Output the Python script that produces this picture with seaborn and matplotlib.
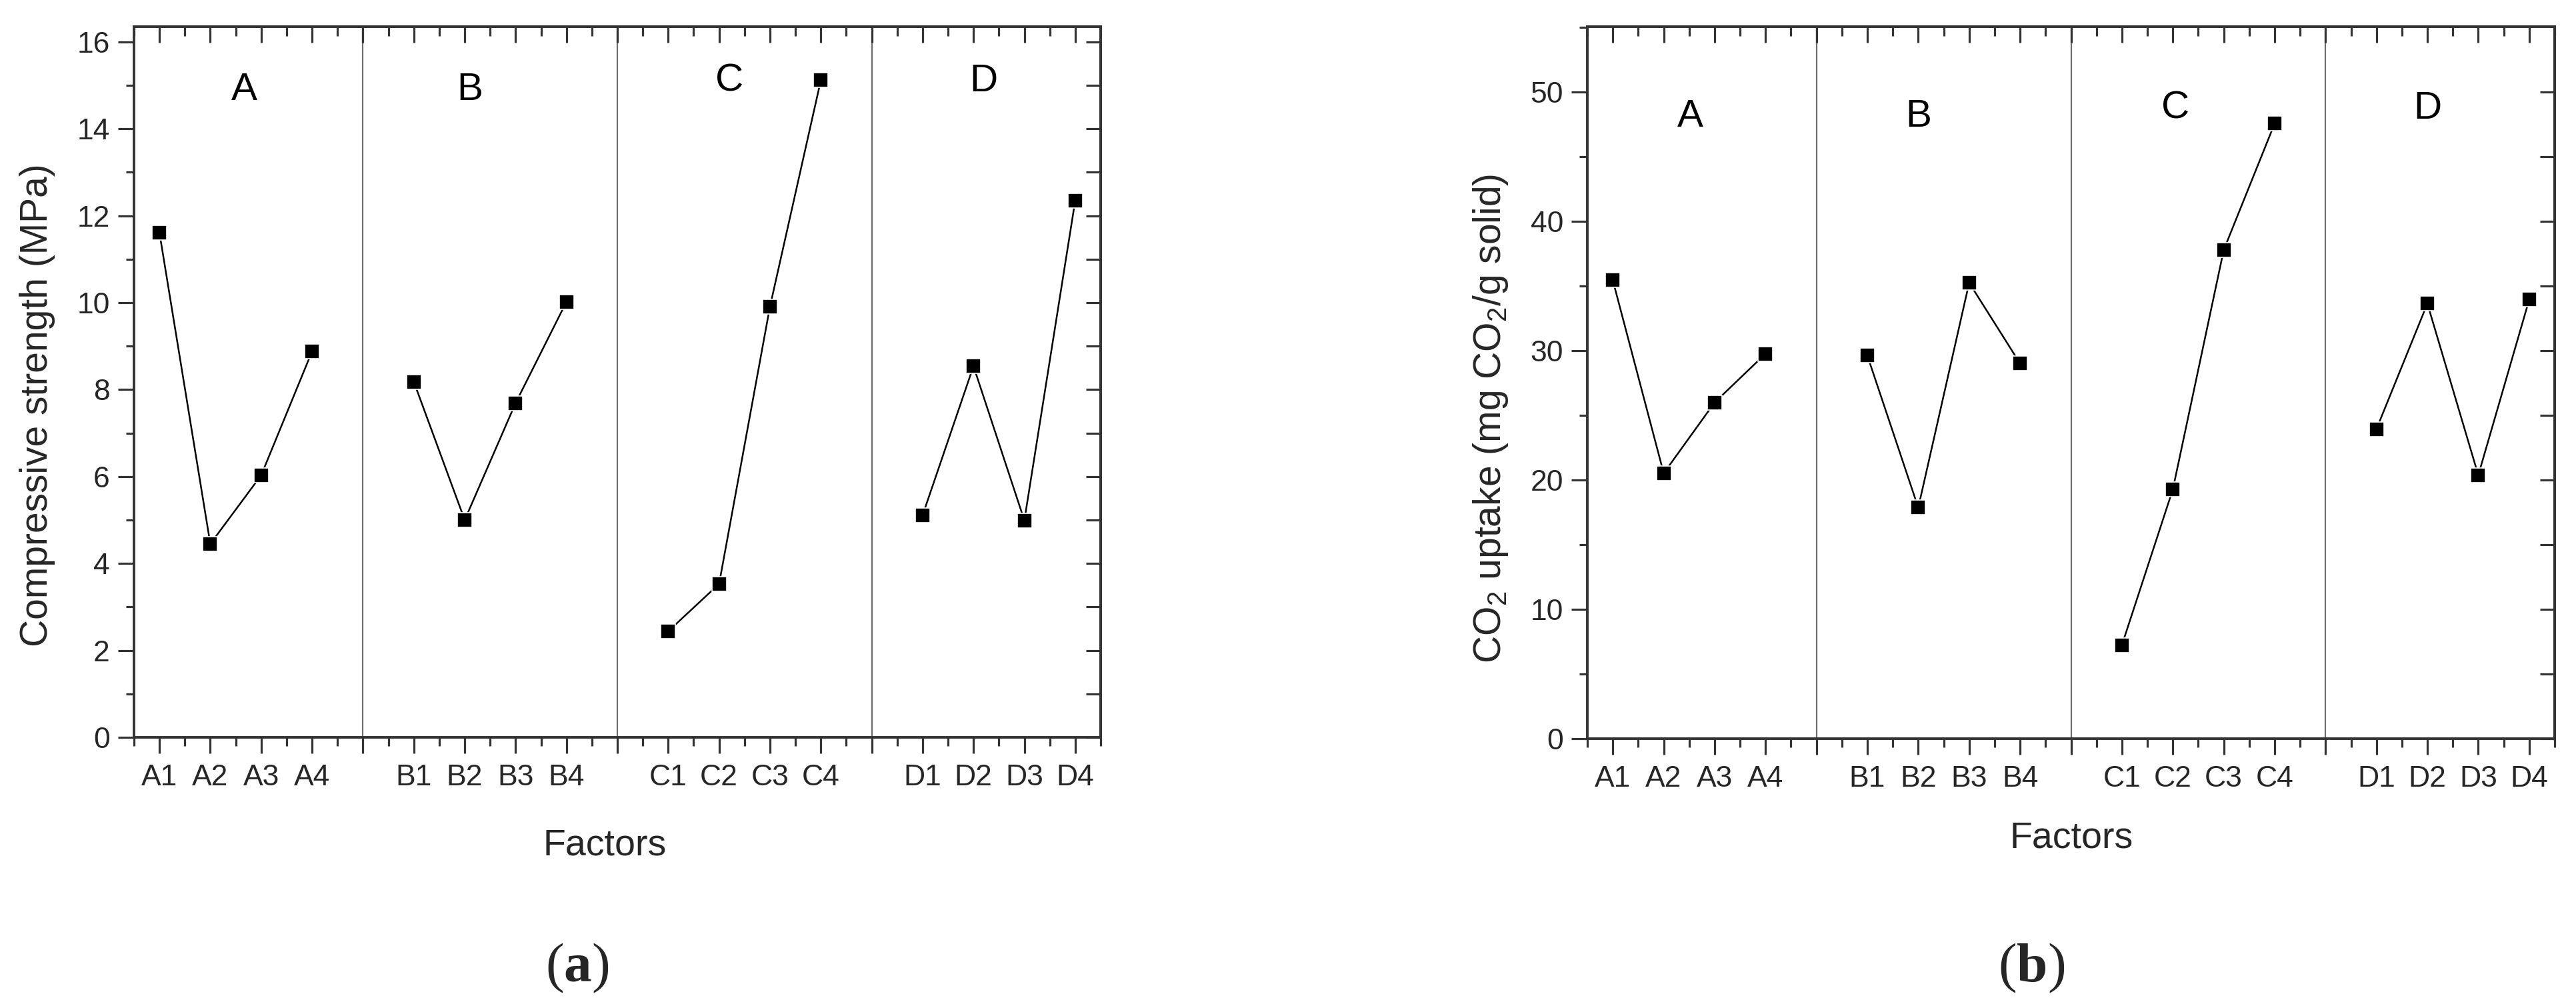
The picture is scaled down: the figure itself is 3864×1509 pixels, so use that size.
import numpy as np
import pandas as pd
import matplotlib
matplotlib.use("Agg")
import matplotlib.pyplot as plt
import seaborn as sns
from matplotlib.ticker import FixedLocator

# ---------------- data ----------------
factors = ["A", "B", "C", "D"]
levels = ["1", "2", "3", "4"]

strength_A = [11.61, 4.45, 6.03, 8.88]
strength_B = [8.18, 5.00, 7.69, 10.02]
strength_C = [2.44, 3.53, 9.91, 15.12]
strength_D = [5.11, 8.54, 4.99, 12.35]

uptake_A = [35.46, 20.53, 26.0, 29.77]
uptake_B = [29.63, 17.87, 35.26, 29.02]
uptake_C = [7.24, 19.28, 37.80, 47.58]
uptake_D = [23.95, 33.65, 20.38, 33.96]

ylabel_a = "Compressive strength (MPa)"
ylabel_b = r"CO$_\mathregular{2}$ uptake (mg CO$_\mathregular{2}$/g solid)"
xlabel = "Factors"
panel_tags = ["a", "b"]

# ---------------- style ----------------
sns.set_style("ticks")
plt.rcParams["font.family"] = ["Liberation Sans", "DejaVu Sans"]
plt.rcParams["mathtext.fontset"] = "custom"
plt.rcParams["mathtext.rm"] = "Liberation Sans"
plt.rcParams["mathtext.bf"] = "Liberation Serif:bold"

SPINE = "#333333"
GAP = 5  # slots per factor group (4 levels + separator)


def build(vals):
    rows = []
    for fi, (f, series) in enumerate(zip(factors, vals)):
        for li, v in enumerate(series):
            rows.append({"factor": f, "label": f + levels[li], "pos": fi * GAP + li, "value": v})
    return pd.DataFrame(rows)


df_a = build([strength_A, strength_B, strength_C, strength_D])
df_b = build([uptake_A, uptake_B, uptake_C, uptake_D])

fig = plt.figure(figsize=(38.64, 15.09), dpi=100)
ax_a = fig.add_axes([0.05202, 0.26706, 0.37526, 0.70643])
ax_b = fig.add_axes([0.61620, 0.26574, 0.37552, 0.70775])


def style(ax, df, ylim, ymaj, ymin, yright, ylabel, ylab_xy, xlab_xy, letters_xy):
    seps = [fi * GAP + 4 for fi in range(len(factors) - 1)]
    for s in seps:
        ax.axvline(s, color="#6e6e6e", lw=1.6, zorder=0)
    sns.lineplot(data=df, x="pos", y="value", units="factor", estimator=None,
                 color="black", linewidth=1.8, marker="s", markersize=16.5,
                 markeredgecolor="white", markeredgewidth=1.2, ax=ax,
                 legend=False, zorder=3)
    ax.set_xlim(-0.5, (len(factors) - 1) * GAP + 3.5)
    ax.set_ylim(*ylim)

    majors = list(df["pos"]) + seps
    labels = list(df["label"]) + [""] * len(seps)
    order = np.argsort(majors)
    majors = [majors[i] for i in order]
    labels = [labels[i] for i in order]
    minors = list(np.arange(-0.5, ax.get_xlim()[1] + 0.01, 1.0))
    ax.set_xticks(majors, labels)
    ax.xaxis.set_minor_locator(FixedLocator(minors))
    ax.set_yticks(ymaj)
    ax.yaxis.set_minor_locator(FixedLocator(ymin))

    ax.tick_params(axis="both", which="major", direction="out", length=17,
                   width=2.3, color=SPINE, labelsize=32, pad=9)
    ax.tick_params(axis="both", which="minor", direction="out", length=9,
                   width=2.3, color=SPINE)
    ax.tick_params(axis="x", which="major", pad=12)
    for sp in ax.spines.values():
        sp.set_visible(True)
        sp.set_linewidth(2.8)
        sp.set_color(SPINE)

    top = ax.secondary_xaxis("top")
    top.set_xticks(majors)
    top.set_xticklabels([])
    top.xaxis.set_minor_locator(FixedLocator(minors))
    top.tick_params(which="major", direction="in", length=17, width=2.3, color=SPINE)
    top.tick_params(which="minor", direction="in", length=10, width=2.3, color=SPINE)
    for sp in top.spines.values():
        sp.set_linewidth(2.8)
        sp.set_color(SPINE)

    right = ax.secondary_yaxis("right")
    right.set_yticks(yright)
    right.set_yticklabels([])
    right.tick_params(which="major", direction="in", length=16, width=2.3, color=SPINE)
    for sp in right.spines.values():
        sp.set_linewidth(2.8)
        sp.set_color(SPINE)

    ax.set_ylabel(ylabel, fontsize=41, va="center")
    ax.yaxis.set_label_coords(*ylab_xy)
    ax.set_xlabel(xlabel, fontsize=40, va="top")
    ax.xaxis.set_label_coords(*xlab_xy)

    for f, (x, y) in zip(factors, letters_xy):
        ax.text(x, y, f, ha="center", va="center", fontsize=42, color="black")


style(ax_a, df_a, (0, 16.35), np.arange(0, 17, 2), np.arange(1, 16, 2),
      np.arange(0, 17, 1), ylabel_a, (-0.100, 0.467), (0.487, -0.1285),
      [(1.67, 14.9), (6.1, 14.9), (11.2, 15.1), (16.2, 15.1)])
style(ax_b, df_b, (0, 55.07), np.arange(0, 51, 10), np.arange(5, 56, 10),
      np.arange(0, 51, 5), ylabel_b, (-0.100, 0.450), (0.5003, -0.116),
      [(1.52, 48.1), (6.0, 48.1), (11.05, 48.75), (16.0, 48.75)])

for tag, x in zip(panel_tags, [866, 3047]):
    fig.text(x / 3864, 1 - 1452 / 1509, "($\\mathbf{" + tag + "}$)",
             ha="center", va="center", fontsize=60, family="Liberation Serif")

fig.savefig("out.png", dpi=100)
